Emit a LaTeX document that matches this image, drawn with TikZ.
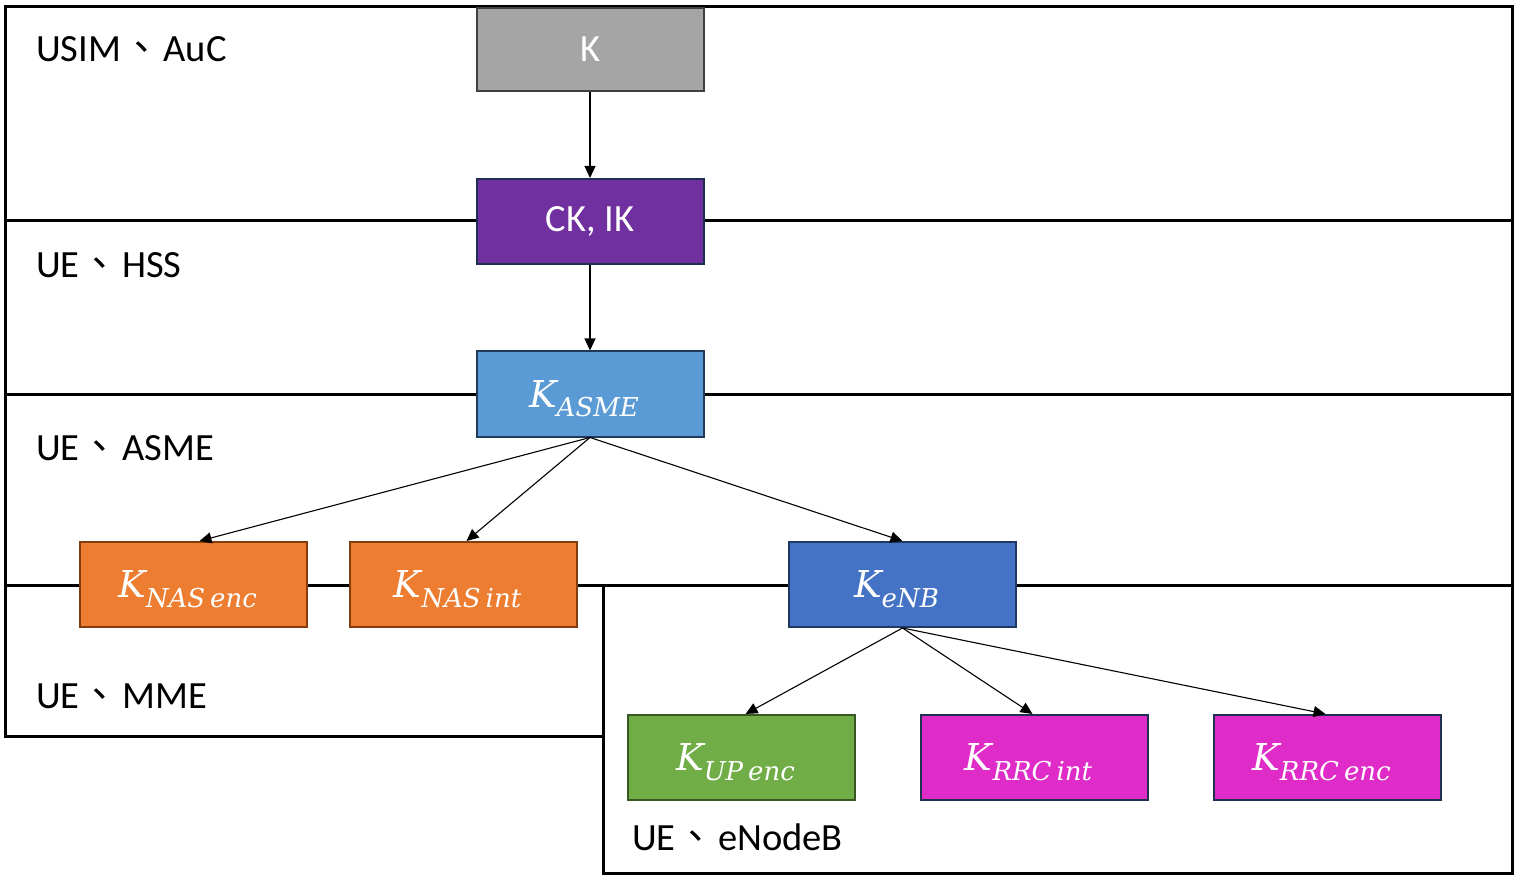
\documentclass[tikz,border=0pt]{standalone}
\usepackage{fontspec}
\setmainfont{Carlito}
\newfontfamily\cjk{Noto Sans CJK TC}
\newfontfamily\kfont{DejaVu Serif}
\usetikzlibrary{arrows.meta}
\definecolor{kgray}{HTML}{A5A5A5}
\definecolor{kgrayb}{HTML}{3F3F3F}
\definecolor{kpurple}{HTML}{7030A0}
\definecolor{kpurpleb}{HTML}{1F2E50}
\definecolor{kblue}{HTML}{5B9BD5}
\definecolor{kblueb}{HTML}{203A5C}
\definecolor{korange}{HTML}{ED7D31}
\definecolor{korangeb}{HTML}{843C0C}
\definecolor{kdblue}{HTML}{4472C4}
\definecolor{kdblueb}{HTML}{203864}
\definecolor{kgreen}{HTML}{70AD47}
\definecolor{kgreenb}{HTML}{385723}
\definecolor{kmag}{HTML}{DF2CC8}
\definecolor{kmagb}{HTML}{1F3050}
\newcommand\regsep{\hspace{20.5pt}\makebox[0pt]{\cjk 、}\hspace{22pt}}
\newcommand\kl[1]{K\smash{\raisebox{-9.5pt}{\fontsize{26}{27}\selectfont #1}}\rule{12pt}{0pt}}
\begin{document}
\begin{tikzpicture}[x=1pt,y=-1pt,
  region/.style={line width=3pt, line cap=rect},
  keybox/.style={draw, line width=2pt, minimum width=227pt, minimum height=85pt,
    inner sep=0pt, text=white, font=\fontsize{38.5}{40}\selectfont},
  mathkey/.style={keybox, font=\fontsize{37}{38}\selectfont\kfont\itshape},
  arr/.style={-{Triangle[length=12pt,width=11pt]}, line width=1.1pt},
  lbl/.style={anchor=base west, inner sep=0pt, font=\fontsize{38.5}{40}\selectfont}]
\useasboundingbox (0,0) rectangle (1516,877);
% region boundaries
\draw[region] (5,736) -- (5,7) -- (1512,7) -- (1512,873) -- (603,873) -- (603,585);
\draw[region] (5,221) -- (1512,221);
\draw[region] (5,394) -- (1512,394);
\draw[region] (5,585) -- (1512,585);
\draw[region] (5,736) -- (603,736);
% region labels
\node[lbl] (lusim) at (36,62) {USIM\regsep AuC};
\node[lbl] (lhss) at (36,278) {UE\regsep HSS};
\node[lbl] (lasme) at (36,460) {UE\regsep ASME};
\node[lbl] (lmme) at (36,708) {UE\regsep MME};
\node[lbl] (lenb) at (632,850) {UE\regsep eNodeB};
% key boxes
\node[keybox, fill=kgray, draw=kgrayb, minimum height=83pt] (k) at (590,49.5) {K};
\node[keybox, fill=kpurple, draw=kpurpleb] (ckik) at (590,221.5) {CK, IK};
\node[mathkey, fill=kblue, draw=kblueb] (kasme) at (590,394) {\kl{ASME}};
\node[mathkey, fill=korange, draw=korangeb] (knasenc) at (193.5,584.5) {\kl{NAS\hspace{5pt}enc}};
\node[mathkey, fill=korange, draw=korangeb] (knasint) at (463.5,584.5) {\kl{NAS\hspace{5pt}int}};
\node[mathkey, fill=kdblue, draw=kdblueb] (kenb) at (902.5,584.5) {\kl{eNB}};
\node[mathkey, fill=kgreen, draw=kgreenb] (kupenc) at (741.5,757.5) {\kl{UP\hspace{5pt}enc}};
\node[mathkey, fill=kmag, draw=kmagb] (krrcint) at (1034.5,757.5) {\kl{RRC\hspace{5pt}int}};
\node[mathkey, fill=kmag, draw=kmagb] (krrcenc) at (1327.5,757.5) {\kl{RRC\hspace{5pt}enc}};
% derivation arrows
\draw[arr] (k.south) -- (ckik.north);
\draw[arr] (ckik.south) -- (kasme.north);
\draw[arr] (kasme.south) -- ([xshift=6pt]knasenc.north);
\draw[arr] (kasme.south) -- ([xshift=3pt]knasint.north);
\draw[arr] (kasme.south) -- (kenb.north);
\draw[arr] (kenb.south) -- ([xshift=4pt]kupenc.north);
\draw[arr] (kenb.south) -- ([xshift=-2pt]krrcint.north);
\draw[arr] (kenb.south) -- ([xshift=-2pt]krrcenc.north);
\end{tikzpicture}
\end{document}
